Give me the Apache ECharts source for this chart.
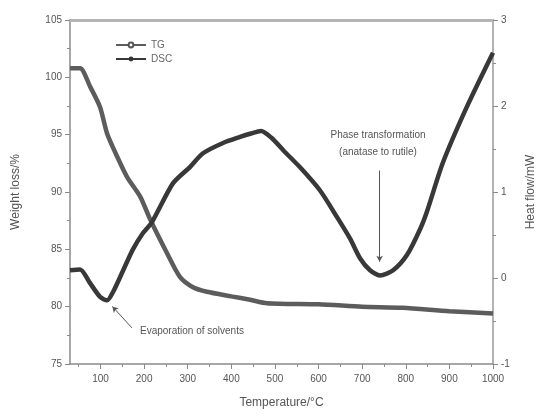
<!DOCTYPE html>
<html>
<head>
<meta charset="utf-8">
<script src="https://cdn.jsdelivr.net/npm/echarts@6/dist/echarts.min.js"></script>
<style>
  html, body { margin: 0; padding: 0; background: #fff; }
  #chart { width: 539px; height: 417px; }
</style>
</head>
<body>
<div id="chart"></div>
<script>
// TG: temperature (°C) / weight (%)
var tgData = [
  [30, 100.8], [53, 100.8], [76, 99.2], [99, 97.4], [115, 95.1], [138, 93.1],
  [161, 91.3], [191, 89.6], [214, 87.6], [252, 84.7], [282, 82.6], [312, 81.7],
  [344, 81.3], [400, 80.9], [443, 80.6], [482, 80.3], [600, 80.2], [700, 80.0],
  [793, 79.9], [900, 79.6], [1000, 79.4]
]
// DSC: temperature (°C) / heat flow (mW)
var dscData = [
  [30, 0.09], [53, 0.10], [76, -0.06], [99, -0.22], [115, -0.26], [129, -0.16],
  [152, 0.09], [174, 0.33], [197, 0.52], [218, 0.65], [266, 1.10], [305, 1.29],
  [335, 1.45], [381, 1.57], [420, 1.64], [445, 1.68], [468, 1.71], [492, 1.63],
  [520, 1.48], [557, 1.29], [603, 1.02], [642, 0.71], [672, 0.46], [695, 0.23],
  [718, 0.09], [741, 0.03], [771, 0.09], [803, 0.27], [833, 0.57], [849, 0.78],
  [885, 1.34], [940, 1.99], [1000, 2.62]
]
var xLabels = [100, 200, 300, 400, 500, 600, 700, 800, 900, 1000]
var xMinorTicks = [50, 150, 250, 350, 450, 550, 650, 750, 850, 950]

var chart = echarts.init(document.getElementById('chart'))
var axisColor = '#8a8a8a'
var labelStyle = { color: '#555', fontSize: 10, fontFamily: 'Liberation Sans' }

chart.setOption({
  animation: false,
  grid: { left: 70, right: 46, top: 20, bottom: 53, outerBoundsMode: 'none' },
  legend: {
    orient: 'vertical',
    left: 110,
    top: 35,
    itemWidth: 30,
    itemHeight: 6,
    itemGap: 4,
    textStyle: { color: '#666', fontSize: 10, fontFamily: 'Liberation Sans' },
    data: ['TG', 'DSC']
  },
  xAxis: [
    {
      type: 'value',
      min: 30,
      max: 1000,
      name: 'Temperature/°C',
      nameLocation: 'middle',
      nameGap: 33,
      nameTextStyle: { color: '#555', fontSize: 12, fontFamily: 'Liberation Sans' },
      axisLine: { onZero: false, lineStyle: { color: axisColor, width: 1.5 } },
      axisTick: { customValues: xLabels, length: 5, lineStyle: { color: axisColor } },
      axisLabel: Object.assign({
        customValues: xLabels,
        margin: 10,
        formatter: function (v) { return String(v) }
      }, labelStyle),
      splitLine: { show: false }
    },
    {
      type: 'value',
      min: 30,
      max: 1000,
      position: 'bottom',
      axisLine: { show: false, onZero: false },
      axisTick: { customValues: xMinorTicks, length: 3, lineStyle: { color: axisColor } },
      axisLabel: { show: false },
      splitLine: { show: false }
    },
    {
      type: 'value',
      min: 30,
      max: 1000,
      position: 'top',
      axisLine: { onZero: false, lineStyle: { color: '#b4b4b4', width: 3 } },
      axisTick: { show: false },
      axisLabel: { show: false },
      splitLine: { show: false }
    }
  ],
  yAxis: [
    {
      type: 'value',
      min: 75,
      max: 105,
      interval: 5,
      name: 'Weight loss/%',
      nameLocation: 'middle',
      nameGap: 48,
      nameTextStyle: { color: '#555', fontSize: 12, fontFamily: 'Liberation Sans' },
      axisLine: { show: true, onZero: false, lineStyle: { color: axisColor, width: 1.5 } },
      axisTick: { length: 5, lineStyle: { color: axisColor } },
      minorTick: { show: true, splitNumber: 2, length: 3, lineStyle: { color: axisColor } },
      axisLabel: labelStyle,
      splitLine: { show: false }
    },
    {
      type: 'value',
      min: -1,
      max: 3,
      interval: 1,
      name: 'Heat flow/mW',
      nameLocation: 'middle',
      nameGap: 32,
      nameTextStyle: { color: '#555', fontSize: 12, fontFamily: 'Liberation Sans' },
      axisLine: { show: true, onZero: false, lineStyle: { color: '#9a9a9a', width: 1.5 } },
      axisTick: { length: 5, lineStyle: { color: axisColor } },
      minorTick: { show: true, splitNumber: 2, length: 3, lineStyle: { color: axisColor } },
      axisLabel: labelStyle,
      splitLine: { show: false }
    }
  ],
  series: [
    {
      name: 'TG',
      type: 'line',
      yAxisIndex: 0,
      smooth: 0.25,
      data: tgData,
      symbol: 'emptyCircle',
      symbolSize: 5,
      showSymbol: false,
      lineStyle: { color: '#5c5c5c', width: 4.5 },
      itemStyle: { color: '#555', borderColor: '#444', borderWidth: 1 }
    },
    {
      name: 'DSC',
      type: 'line',
      yAxisIndex: 1,
      smooth: 0.25,
      data: dscData,
      symbol: 'circle',
      symbolSize: 5,
      showSymbol: false,
      lineStyle: { color: '#383838', width: 4.5 },
      itemStyle: { color: '#333' },
      markLine: {
        silent: true,
        symbol: ['none', 'arrow'],
        symbolSize: [5, 6],
        lineStyle: { color: '#555', width: 1, type: 'solid' },
        label: { show: false },
        data: [
          [{ coord: [740, 1.25] }, { coord: [740, 0.19] }],
          [{ coord: [172, -0.58] }, { coord: [127, -0.33] }]
        ]
      }
    }
  ],
  graphic: [
    {
      type: 'text',
      x: 378,
      y: 127,
      style: {
        text: 'Phase transformation\n(anatase to rutile)',
        fill: '#555',
        fontSize: 10,
        lineHeight: 17,
        align: 'center',
        fontFamily: 'Liberation Sans'
      }
    },
    {
      type: 'text',
      x: 140,
      y: 326,
      style: {
        text: 'Evaporation of solvents',
        fill: '#555',
        fontSize: 10,
        fontFamily: 'Liberation Sans'
      }
    }
  ]
})
</script>
</body>
</html>
